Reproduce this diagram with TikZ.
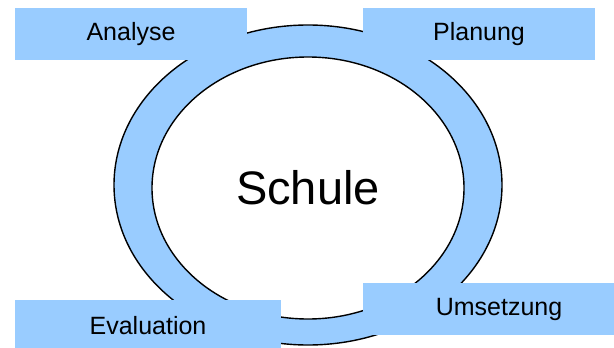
\documentclass[tikz,border=0pt]{standalone}
\usepackage{fontspec}
\setmainfont{Liberation Sans}
\definecolor{ringblue}{HTML}{99CCFF}
\tikzset{
	phase/.style = {fill = ringblue, inner sep = 0pt, font = \fontsize{25}{30}\selectfont}
}

\begin{document}
\begin{tikzpicture}[x = 1pt, y = -1pt]
	\useasboundingbox (0, 0) rectangle (614, 348);

	\draw[line width = 1.4pt, fill = ringblue] (308, 185) ellipse [x radius = 194, y radius = 160];
	\draw[line width = 1.4pt, fill = white] (308, 188) ellipse [x radius = 156, y radius = 131];
	\node[font = \fontsize{47}{52}\selectfont] (schule) at (308, 188) {Schule};

	\node[phase, minimum width = 232pt, minimum height = 52pt] (analyse) at (131, 34) {Analyse};
	\node[phase, minimum width = 232pt, minimum height = 52pt] (planung) at (479, 34) {Planung};
	\node[phase, minimum width = 266pt, minimum height = 52pt] (evaluation) at (148, 326) {Evaluation};
	\node[phase, minimum width = 272pt, minimum height = 52pt] (umsetzung) at (499, 309) {Umsetzung};
\end{tikzpicture}
\end{document}
